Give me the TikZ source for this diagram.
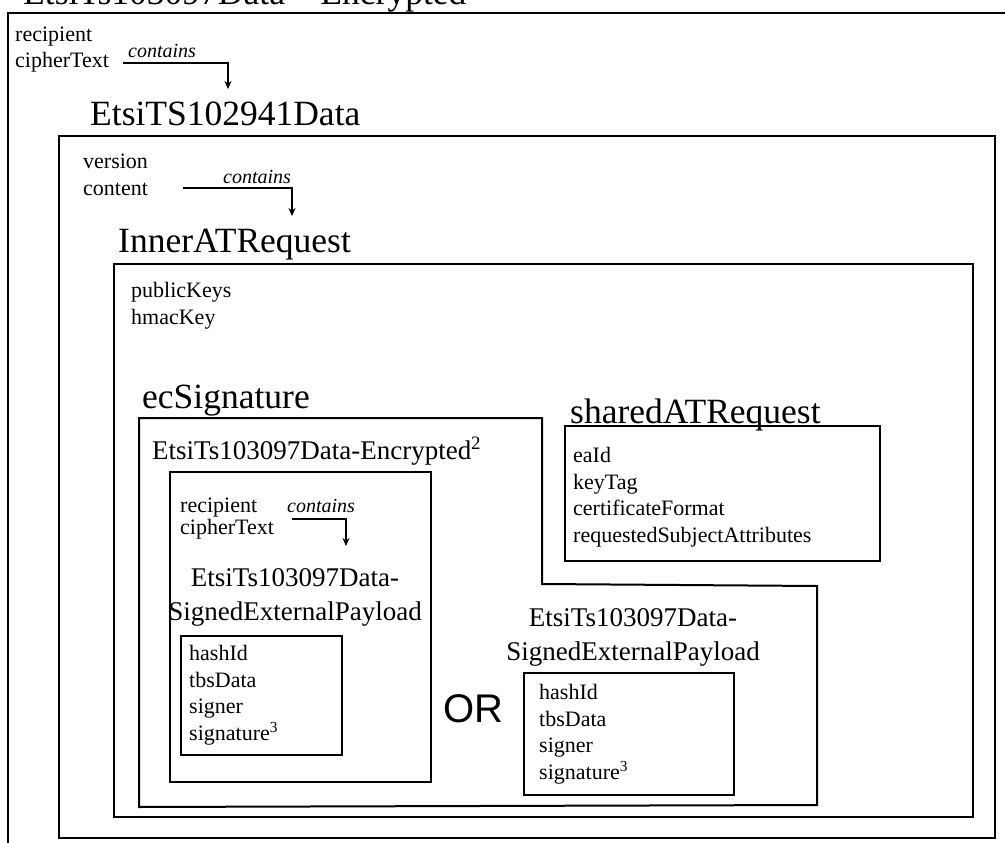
\documentclass[tikz,border=0pt]{standalone}
\usepackage{fontspec}
\setmainfont{Liberation Serif}
\newfontfamily\orfont{Liberation Sans}
\usetikzlibrary{arrows.meta}

\begin{document}
\begin{tikzpicture}[x=1pt,y=-1pt,
  boxline/.style={draw, line width=2pt},
  ttl/.style={font=\fontsize{35.5}{40}\selectfont, inner sep=0, anchor=base west},
  mid/.style={font=\fontsize{27}{33.5}\selectfont, inner sep=0, align=center, anchor=base},
  fld/.style={font=\fontsize{22}{26.5}\selectfont, inner sep=0, align=left, anchor=base west},
  cont/.style={font=\fontsize{20}{24}\selectfont\itshape, inner sep=0, anchor=base west},
  arr/.style={line width=1.8pt, -{Stealth[length=8pt,width=7pt]}}]
  \useasboundingbox (0,0) rectangle (1005,843);
  \clip (0,0) rectangle (1005,843);
  \fill[white] (0,0) rectangle (1005,843);

  \node[ttl] (encT) at (23,5) {EtsiTs103097Data -- Encrypted};
  \draw[boxline] (8,13) rectangle (1030,870);
  \node[fld] (encF) at (15,68) {recipient\\cipherText};
  \node[cont] (cont1) at (128,58) {contains};
  \coordinate (a1s) at (123,63);
  \coordinate (a1e) at (228,89);
  \draw[arr] (a1s) -| (a1e);

  \node[ttl] (dataT) at (90,125) {EtsiTS102941Data};
  \draw[boxline] (59,136) rectangle (995,838);
  \node[fld] (dataF) at (83,195) {version\\content};
  \node[cont] (cont2) at (223,183) {contains};
  \coordinate (a2s) at (183,188);
  \coordinate (a2e) at (292,216);
  \draw[arr] (a2s) -| (a2e);

  \node[ttl] (innerT) at (118,252) {InnerATRequest};
  \draw[boxline] (114,264) rectangle (973,817);
  \node[fld] (innerF) at (131,324) {publicKeys\\hmacKey};

  \node[ttl] (sigT) at (142,408) {ecSignature};
  \draw[boxline] (139,418) -- (542,418) -- (542,584) -- (817,586)
    -- (817,805) -- (139,807) -- cycle;
  \node[mid, anchor=base west] (enc2T) at (152,459) {EtsiTs103097Data-Encrypted\textsuperscript{2}};
  \draw[boxline] (170,472) rectangle (431,782);
  \node[fld, font=\fontsize{22}{21.5}\selectfont] (enc2F) at (180,534) {recipient\\cipherText};
  \node[cont] (cont3) at (287,512) {contains};
  \coordinate (a3s) at (292,519);
  \coordinate (a3e) at (346,546);
  \draw[arr] (a3s) -| (a3e);
  \node[mid] (sepA) at (295,620) {EtsiTs103097Data-\\SignedExternalPayload};
  \draw[boxline] (181,636) rectangle (342,755);
  \node[fld] (hashA) at (189,740) {hashId\\tbsData\\signer\\signature\textsuperscript{3}};

  \node[font=\orfont\fontsize{40}{44}\selectfont, inner sep=0, anchor=base west] (or) at (443,722) {OR};

  \node[mid] (sepB) at (633,660) {EtsiTs103097Data-\\SignedExternalPayload};
  \draw[boxline] (524,673) rectangle (734,795);
  \node[fld] (hashB) at (539,779) {hashId\\tbsData\\signer\\signature\textsuperscript{3}};

  \node[ttl] (shT) at (570,423) {sharedATRequest};
  \draw[boxline] (565,426) rectangle (880,561);
  \node[fld] (shF) at (573,542) {eaId\\keyTag\\certificateFormat\\requestedSubjectAttributes};
\end{tikzpicture}
\end{document}
